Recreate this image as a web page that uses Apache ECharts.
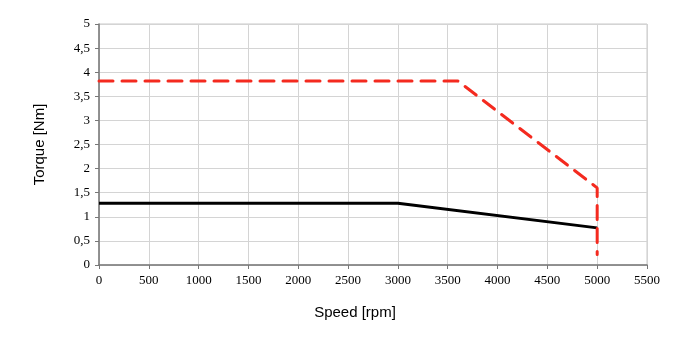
<!DOCTYPE html>
<html>
<head>
<meta charset="utf-8">
<script src="https://cdn.jsdelivr.net/npm/echarts@6/dist/echarts.min.js"></script>
<style>
  html, body { margin: 0; padding: 0; background: #fff; }
  #chart { width: 700px; height: 354px; }
</style>
</head>
<body>
<div id="chart"></div>
<script>
// 最大转矩曲线 (红色虚线)
var peakSpeed = [0, 3600, 5000, 5000];
var peakTorque = [3.82, 3.82, 1.6, 0.22];
// 额定转矩曲线 (黑色实线)
var ratedSpeed = [0, 3000, 5000];
var ratedTorque = [1.28, 1.28, 0.77];

function toPairs(xs, ys) {
    var out = [];
    for (var i = 0; i < xs.length; i++) {
        out.push([xs[i], ys[i]]);
    }
    return out;
}

var chart = echarts.init(document.getElementById('chart'));
var option = {
    animation: false,
    grid: {
        left: 99,
        right: 53,
        top: 24,
        bottom: 89,
        show: true,
        borderColor: '#c8c8c8',
        borderWidth: 1
    },
    xAxis: {
        type: 'value',
        min: 0,
        max: 5500,
        interval: 500,
        name: 'Speed [rpm]',
        nameLocation: 'middle',
        nameGap: 40,
        nameTextStyle: {
            fontFamily: 'Liberation Sans',
            fontSize: 15,
            color: '#000',
            padding: [0, 36, 0, 0]
        },
        axisLine: { lineStyle: { color: '#777', width: 1.5 } },
        axisTick: { show: true, length: 4, lineStyle: { color: '#777' } },
        axisLabel: {
            fontFamily: 'Liberation Serif',
            fontSize: 13,
            color: '#000',
            margin: 9,
            formatter: function (v) {
                return String(v);
            }
        },
        splitLine: { lineStyle: { color: '#d4d4d4', width: 1 } }
    },
    yAxis: {
        type: 'value',
        min: 0,
        max: 5,
        interval: 0.5,
        name: 'Torque [Nm]',
        nameLocation: 'middle',
        nameGap: 52,
        nameTextStyle: {
            fontFamily: 'Liberation Sans',
            fontSize: 15,
            color: '#000'
        },
        axisLine: { show: true, lineStyle: { color: '#777', width: 1.5 } },
        axisTick: { show: true, length: 4, lineStyle: { color: '#777' } },
        axisLabel: {
            fontFamily: 'Liberation Serif',
            fontSize: 13,
            color: '#000',
            margin: 9,
            formatter: function (v) {
                return String(v).replace('.', ',');
            }
        },
        splitLine: { lineStyle: { color: '#d4d4d4', width: 1 } }
    },
    series: [
        {
            name: 'rated',
            type: 'line',
            data: toPairs(ratedSpeed, ratedTorque),
            symbol: 'none',
            lineStyle: { color: '#000', width: 3 },
            z: 2
        },
        {
            name: 'peak',
            type: 'line',
            data: toPairs(peakSpeed, peakTorque),
            symbol: 'none',
            lineStyle: {
                color: '#f42a1f',
                width: 3,
                type: [14, 9],
                cap: 'round'
            },
            z: 3
        }
    ]
};
chart.setOption(option);
</script>
</body>
</html>
